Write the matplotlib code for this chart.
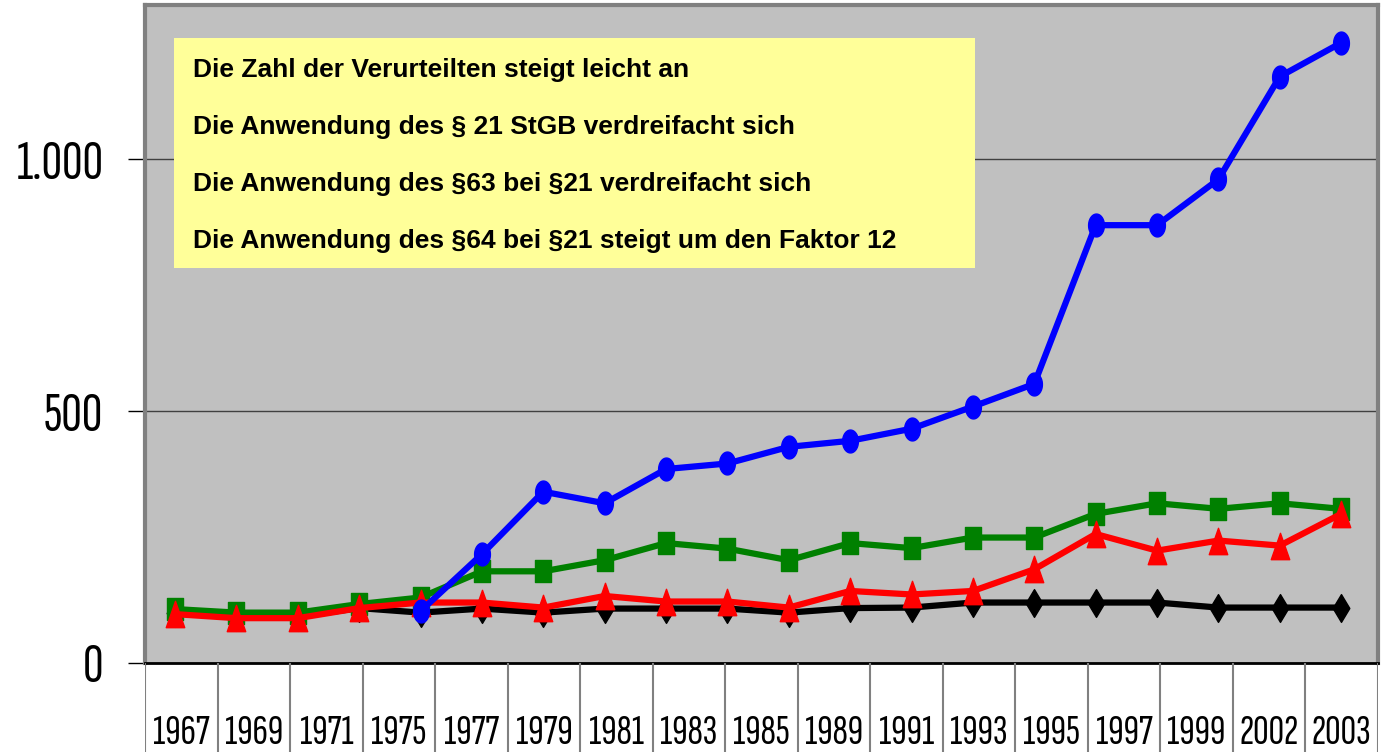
import matplotlib
import numpy as np

matplotlib.use("Agg")
import matplotlib.pyplot as plt
from matplotlib.path import Path
from matplotlib.patches import Rectangle


YEAR_LABELS = ["1967", "1969", "1971", "1975", "1977", "1979", "1981", "1983", "1985",
               "1989", "1991", "1993", "1995", "1997", "1999", "2002", "2003"]
N_POINTS = 20
verurteilte = [99, 92, 92, 109, 100, 108, 100, 108, 108, 108,
               100, 109, 110, 120, 120, 120, 120, 110, 110, 110]
para21 = [107, 100, 100, 117, 130, 182, 182, 204, 238, 227,
          204, 238, 228, 249, 249, 296, 317, 306, 317, 306]
para63 = [97, 89, 89, 109, 120, 120, 110, 133, 122, 122,
          110, 143, 136, 143, 186, 256, 223, 243, 233, 296]
para64 = [np.nan, np.nan, np.nan, np.nan, 103, 216, 340, 317, 385, 396,
          429, 441, 465, 509, 554, 869, 869, 960, 1164, 1231]
BOX_LINES = [
    "Die Zahl der Verurteilten steigt leicht an",
    "Die Anwendung des § 21 StGB verdreifacht sich",
    "Die Anwendung des §63 bei §21 verdreifacht sich",
    "Die Anwendung des §64 bei §21 steigt um den Faktor 12",
]
NARROW = ["Sofia Sans Extra Condensed", "DejaVu Sans"]


def _squeezed(kind, ratio):
    # markers look horizontally squashed in the original
    if kind == "ellipse":
        t = np.linspace(0, 2 * np.pi, 40)
        verts = np.column_stack([ratio * np.sin(t), np.cos(t)])
        return Path(verts, closed=True)
    if kind == "rect":
        verts = [(-ratio, -1), (ratio, -1), (ratio, 1), (-ratio, 1), (-ratio, -1)]
    elif kind == "tri":
        verts = [(-ratio, -1), (ratio, -1), (0, 1), (-ratio, -1)]
    else:
        verts = [(0, -1), (ratio, 0), (0, 1), (-ratio, 0), (0, -1)]
    return Path(verts, closed=True)


W, H = 1387, 752
fig = plt.figure(figsize=(W / 100, H / 100), dpi=100)
left, right, bottom, top = 145 / W, 1378 / W, (H - 663) / H, (H - 5) / H
ax = fig.add_axes([left, bottom, right - left, top - bottom])
ax.set_facecolor("#c0c0c0")

x = np.arange(N_POINTS)
ax.plot(x, verurteilte, color="black", lw=4.5, marker=_squeezed("diamond", 0.6),
        ms=20, zorder=3)
ax.plot(x, para21, color="#008000", lw=4.5, marker=_squeezed("rect", 0.68),
        ms=16, zorder=4)
ax.plot(x, para63, color="#ff0000", lw=4.5, marker=_squeezed("tri", 0.7),
        ms=19, zorder=5)
ax.plot(x, para64, color="#0000ff", lw=4.5, marker=_squeezed("ellipse", 0.69),
        ms=16.5, zorder=6)

ax.set_xlim(-0.49, 19.6)
ax.set_ylim(0, 1306)
ax.set_xticks([])
ax.set_yticks([0, 500, 1000])
ax.set_yticklabels(["0", "500", "1.000"])
ax.grid(axis="y", color="#404040", lw=1)
ax.set_axisbelow(True)
ax.tick_params(axis="y", length=12, width=1, pad=18, labelsize=41)
for lab in ax.get_yticklabels():
    lab.set_family(NARROW)
    lab.set_fontweight("light")
for side in ("left", "right", "top"):
    ax.spines[side].set_color("#808080")
    ax.spines[side].set_linewidth(3)
ax.spines["bottom"].set_color("black")
ax.spines["bottom"].set_linewidth(2)

ax.add_patch(Rectangle((29 / 1233, 1 - 263 / 658), 801 / 1233, 230 / 658,
                       transform=ax.transAxes, facecolor="#ffff99",
                       edgecolor="none", zorder=2))
for i, line in enumerate(BOX_LINES):
    fig.text(193 / W, 1 - (70 + 57 * i) / H, line, ha="left", va="center",
             fontsize=19, fontweight="bold", family=["Liberation Sans", "DejaVu Sans"])

# year row below the plot, drawn as a strip of cells
lab_ax = fig.add_axes([left, 0, right - left, bottom])
lab_ax.set_xlim(0, len(YEAR_LABELS))
lab_ax.set_ylim(0, 1)
lab_ax.axis("off")
for b in range(len(YEAR_LABELS) + 1):
    lab_ax.axvline(b, color="#808080", lw=1.5)
for i, year in enumerate(YEAR_LABELS):
    lab_ax.text(i + 0.5, 0.005, year, ha="center", va="bottom", fontsize=31,
                family=NARROW)

fig.savefig("out.png", dpi=100)
